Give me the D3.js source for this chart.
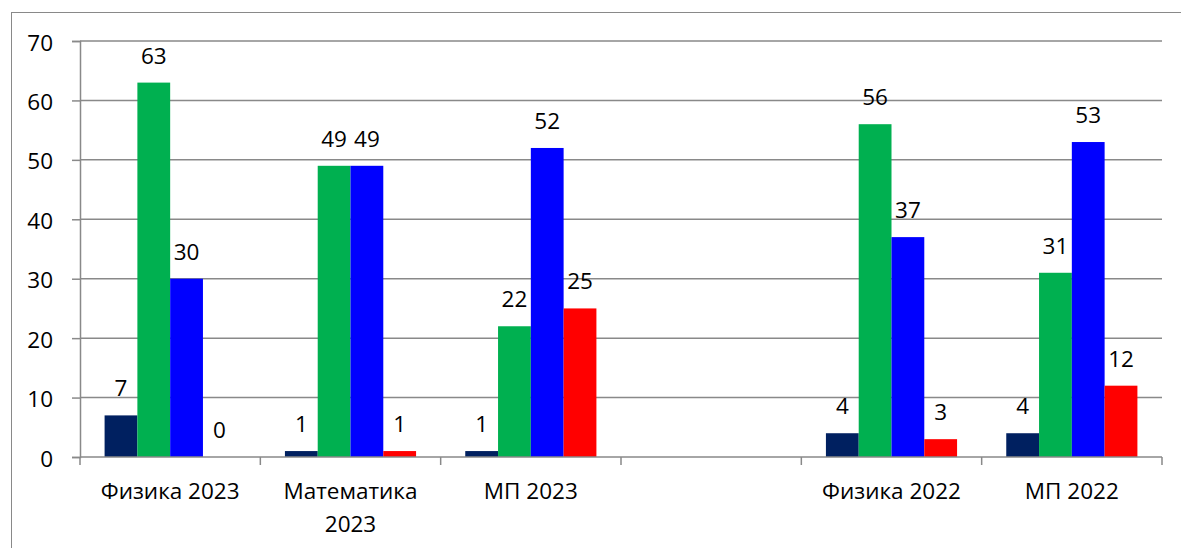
<!DOCTYPE html>
<html>
<head>
<meta charset="utf-8">
<script src="https://cdn.jsdelivr.net/npm/d3@7"></script>
<style>
  body { margin: 0; background: #fff; }
  svg { display: block; font-family: "Open Sans", sans-serif; }
</style>
</head>
<body>
<svg width="1181" height="548"></svg>
<script>
// data ======================================================
var categories = ["Физика 2023", "Математика 2023", "МП 2023", "", "Физика 2022", "МП 2022"];
var navySeries  = [7, 1, 1, null, 4, 4];
var greenSeries = [63, 49, 22, null, 56, 31];
var blueSeries  = [30, 49, 52, null, 37, 53];
var redSeries   = [0, 1, 25, null, 3, 12];
var yTicks = [0, 10, 20, 30, 40, 50, 60, 70];

var seriesList = [navySeries, greenSeries, blueSeries, redSeries];
var colors = ["#002060", "#00B050", "#0000FF", "#FF0000"];

// layout ====================================================
var svg = d3.select("svg");
var plotLeft = 80, plotRight = 1162, plotTop = 41, plotBottom = 457;
var gridColor = "#898989";
var fontSize = 22.5;

// outer chart border (runs off the right / bottom edge like the original)
svg.append("rect")
  .attr("x", 11.5).attr("y", 12.5)
  .attr("width", 1250).attr("height", 600)
  .attr("fill", "none").attr("stroke", gridColor);

var y = d3.scaleLinear().domain([0, 70]).range([plotBottom, plotTop]);
var x = d3.scaleBand().domain(d3.range(categories.length)).range([plotLeft, plotRight]).padding(0);
// gap width 150% -> 4 bars take 4/5.5 of each band
var groupW = x.bandwidth() * 4 / 5.5;
var x1 = d3.scaleBand().domain(d3.range(seriesList.length))
  .range([(x.bandwidth() - groupW) / 2, (x.bandwidth() + groupW) / 2]);

// gridlines
svg.append("g").selectAll("line")
  .data(yTicks.filter(function(d) { return d > 0; }))
  .enter().append("line")
  .attr("x1", plotLeft).attr("x2", plotRight)
  .attr("y1", function(d) { return y(d); }).attr("y2", function(d) { return y(d); })
  .attr("stroke", gridColor).attr("stroke-width", 1.5);

// y axis
var yAxis = d3.axisLeft(y).tickValues(yTicks).tickSize(8).tickPadding(19);
var gy = svg.append("g").attr("transform", "translate(" + plotLeft + ",0)").call(yAxis);
gy.select(".domain").attr("stroke", gridColor).attr("stroke-width", 1.5);
gy.selectAll(".tick line").attr("stroke", gridColor).attr("stroke-width", 1.5);
gy.selectAll(".tick text").attr("font-size", fontSize).attr("fill", "#000")
  .attr("font-family", "Open Sans, sans-serif").attr("dy", "0.4em");

// bars
var groups = svg.append("g").selectAll("g")
  .data(categories)
  .enter().append("g")
  .attr("transform", function(d, i) { return "translate(" + x(i) + ",0)"; });

groups.each(function(cat, ci) {
  var g = d3.select(this);
  seriesList.forEach(function(s, si) {
    var v = s[ci];
    if (v == null) return;
    g.append("rect")
      .attr("x", x1(si)).attr("width", x1.bandwidth())
      .attr("y", y(v)).attr("height", plotBottom - y(v))
      .attr("fill", colors[si]);
    g.append("text")
      .attr("x", x1(si) + x1.bandwidth() / 2)
      .attr("y", y(v) - 19)
      .attr("text-anchor", "middle")
      .attr("font-size", fontSize)
      .attr("fill", "#000")
      .text(v);
  });
});

// x axis line and ticks
svg.append("line")
  .attr("x1", plotLeft).attr("x2", plotRight)
  .attr("y1", plotBottom).attr("y2", plotBottom)
  .attr("stroke", gridColor).attr("stroke-width", 1.5);

svg.append("g").selectAll("line")
  .data(d3.range(categories.length + 1))
  .enter().append("line")
  .attr("x1", function(i) { return plotLeft + i * x.step(); })
  .attr("x2", function(i) { return plotLeft + i * x.step(); })
  .attr("y1", plotBottom).attr("y2", plotBottom + 8)
  .attr("stroke", gridColor).attr("stroke-width", 1.5);

// category labels, wrapped when wider than the Excel-like wrap width
var labels = svg.append("g").selectAll("text")
  .data(categories)
  .enter().append("text")
  .attr("x", function(d, i) { return x(i) + x.bandwidth() / 2; })
  .attr("y", 499)
  .attr("text-anchor", "middle")
  .attr("font-size", fontSize)
  .attr("fill", "#000")
  .text(function(d) { return d; });

labels.each(function(d) {
  var t = d3.select(this);
  if (this.getComputedTextLength() > 160) {
    var words = d.split(" ");
    var cx = t.attr("x");
    t.text(null);
    t.append("tspan").attr("x", cx).text(words.slice(0, -1).join(" "));
    t.append("tspan").attr("x", cx).attr("dy", 33).text(words[words.length - 1]);
  }
});
</script>
</body>
</html>
